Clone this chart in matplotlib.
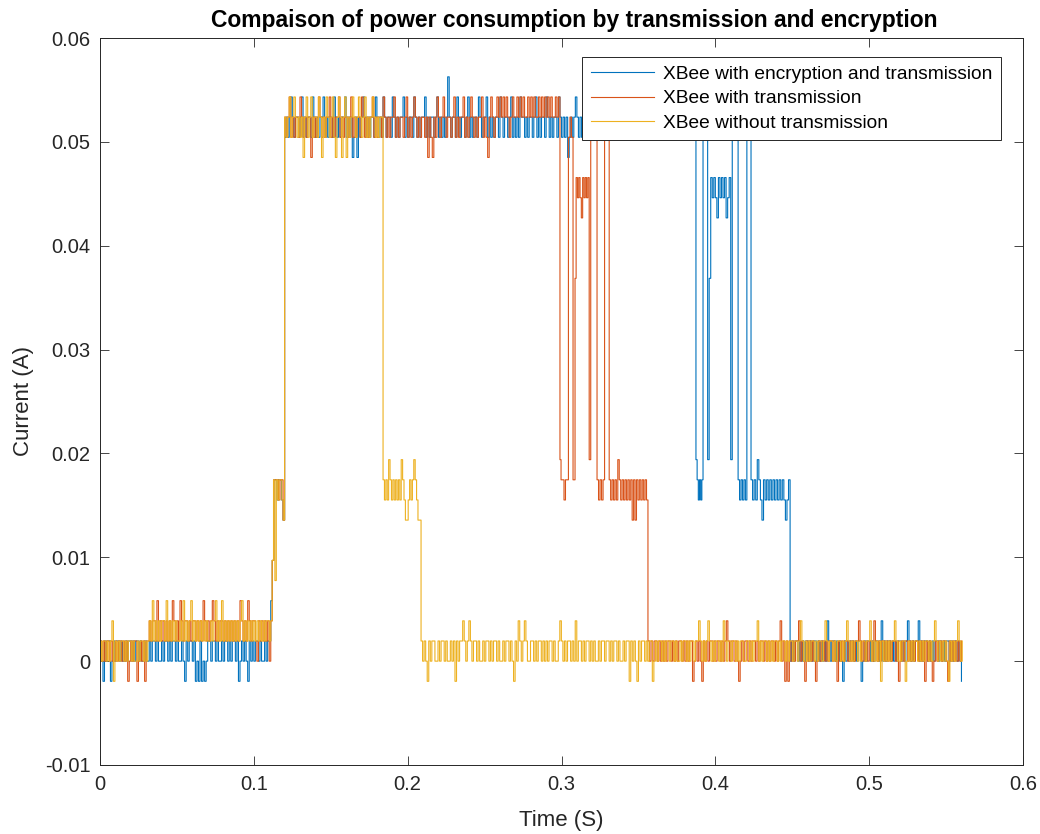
import numpy as np
import matplotlib
matplotlib.use("Agg")
from matplotlib import pyplot as plt

# ADC step of the current logger (A per count)
STEP = 0.00194
# level code: 'm' = -1 count, '0'..'9' = 0..9 counts, 'A'.. = 10.. counts
LEVEL_CHARS = "m0123456789ABCDEFGHIJKLMNOPQRSTU"

# (t_start, t_end, level codes)
blue_segments = [
    (0.000, 0.031, "10m1011m010110100101101011010010"),
    (0.031, 0.111, "0101101001" "0110101101" "0010m10110" "1m0m1m0m01" "1011010010"
                   "110101101m" "01010m1010" "1101001011"),
    (0.111, 0.120, "359989987"),
    (0.120, 0.385, "QRQRSRQRRQ" "RSQRQRRQSR" "QRQRRSQRQR" "RQSRQRQRRS" "QRQRPQRPRQ"
                   "RSRQRQRRQS" "RQRQSRQRRQ" "SRQRQRRSQR" "QRRQSRQRQR" "RSQRQRRQRS"
                   "QRQRQRTRQR" "RQSRQRRQRS" "QRQRRQSRQR" "RSQRQRQRRQ" "SRQRRQRSQR"
                   "QRQSRRQRQR" "RQRSQRQRRQ" "SRQRQRRQSR" "QRQRPQRQRS" "RQRQRRSQRQ"
                   "RQRSRQRQRR" "QSRQRQRRQR" "SRQRQRRQRS" "QRQRRSQRQR" "RQRSQRQRRQ"
                   "RSRQRQRRQR" "QRSRQ"),
    (0.385, 0.3874, "RQ"),
    (0.3874, 0.392, "A98989"),
    (0.392, 0.395, "QRQ"),
    (0.395, 0.396, "A"),
    (0.396, 0.397, "J"),
    (0.397, 0.410, "ONONMONONOMNO"),
    (0.410, 0.411, "A"),
    (0.411, 0.4148, "RQRQ"),
    (0.4148, 0.4205, "989898"),
    (0.4205, 0.4232, "QRQ"),
    (0.4232, 0.4486, "9898A98798989898989898789"),
    (0.4486, 0.5610, "0101101010" "1101011010" "1010210110" "1010m10101" "101011m010"
                     "1101011012" "0101101010" "1101012101" "0112010110" "1010110101"
                     "0110101101" "0m"),
]

orange_segments = [
    (0.000, 0.031, "1010110100" "10110101m0" "1011m0101m" "1"),
    (0.031, 0.111, "1212213121" "2121213212" "1321221212" "2121213212" "1232121221"
                   "2121212121" "3212132122" "1021212120"),
    (0.111, 0.120, "259998997"),
    (0.120, 0.299, "RQRSQRQRRQ" "SRQRQRRPRQ" "RQSRQRQRRS" "QRQRRSQRQR" "RQRSQRQRRQ"
                   "SRQRQRRSQR" "QRRQSRQRQR" "RSQRQRRQRS" "QRQRSRQRQR" "RQRPRQPRQS"
                   "RQRSRQRRQR" "SQRQRRSQRQ" "RSRQRQRRSQ" "RQPRSRQRSR" "SRSRSRQRSR"
                   "RSRSRSRRSR" "SRSRRSRSRS" "RSRSRRSRS"),
    (0.299, 0.2997, "A"),
    (0.2997, 0.3045, "99899"),
    (0.3045, 0.3075, "QRQ"),
    (0.3075, 0.3088, "9"),
    (0.3088, 0.3095, "J"),
    (0.3095, 0.318, "ONONMONONO"),
    (0.318, 0.319, "A"),
    (0.319, 0.3231, "RQRS"),
    (0.3231, 0.328, "98989"),
    (0.328, 0.331, "QRQ"),
    (0.331, 0.3562, "989898A98989898979798989898"),
    (0.3562, 0.5610, "1010110101" "0101101010" "110101011m" "01010m1010" "1101011010"
                     "121011010m" "0101101011" "0101101010" "110101201m" "1m10101120"
                     "10m101010m" "0101101011" "010m101011" "0101011210" "1010110210"
                     "1011010101" "101m010110" "1010110101" "m1010m0101" "10110m1010"
                     "10101"),
]

yellow_segments = [
    (0.000, 0.031, "101101012m1010110101101001011010"),
    (0.031, 0.111, "1213121212" "2131212121" "1213121231" "2121212121" "1212312131"
                   "2121212121" "2312121212" "1212121221"),
    (0.111, 0.120, "2594989987"),
    (0.120, 0.183, "RQRSQRSRQR" "QRPRSQRSQR" "RQSRPRQSRQ" "RSQPRSRPRS" "PRQRSRQRSR"
                   "QRSQRQRSRQ" "RQR"),
    (0.183, 0.184, "R"),
    (0.184, 0.2067, "9898A98989898A98778989A98"),
    (0.2067, 0.2087, "77"),
    (0.2087, 0.5615, "1010m10110" "0101101001" "01m1011210" "1210110100" "1011010110"
                     "1001011010" "m102101210" "0110101101" "0101101001" "2101011010"
                     "2011010110" "1010010110" "1101011010" "01011m1010" "m101101011"
                     "m010110101" "1011010010" "1101011011" "2101012101" "0110102101"
                     "1011010110" "0110101120" "1011010101" "1010110101" "1011012101"
                     "0101101011" "0121011010" "1101012101" "0110101101" "12010101m1"
                     "0101011210" "1011m01010" "1101010110" "1012101010" "10m1010121"
                     "01"),
]

labels = ["XBee with encryption and transmission",
          "XBee with transmission",
          "XBee without transmission"]
colors = ["#0072BD", "#D95319", "#EDB120"]


def decode(segments):
    t_all, i_all = [], []
    for t0, t1, codes in segments:
        t_all.append(np.linspace(t0, t1, len(codes), endpoint=False))
        i_all.append(np.array([LEVEL_CHARS.index(c) - 1 for c in codes]) * STEP)
    return np.concatenate(t_all), np.concatenate(i_all)


plt.rcParams['font.family'] = ['Liberation Sans', 'DejaVu Sans']
fig = plt.figure(figsize=(10.4, 8.34), dpi=100)
ax = fig.add_axes([100 / 1040, 1 - 765 / 834, 923 / 1040, 727 / 834])

for segs, lab, col in zip([blue_segments, orange_segments, yellow_segments], labels, colors):
    t, cur = decode(segs)
    ax.plot(t, cur, color=col, lw=0.8, label=lab, drawstyle='steps-post')

ax.set_xlim(0, 0.6)
ax.set_ylim(-0.01, 0.06)
ax.set_xticks(np.arange(0, 0.61, 0.1))
ax.set_yticks(np.arange(-0.01, 0.061, 0.01))
ax.xaxis.set_major_formatter(matplotlib.ticker.FuncFormatter(lambda v, p: "%g" % round(v, 3)))
ax.yaxis.set_major_formatter(matplotlib.ticker.FuncFormatter(lambda v, p: "%g" % round(v, 3)))
ax.tick_params(direction='in', top=True, right=True, length=6.5, width=0.6,
               labelsize=14.5, colors='#262626', pad=7)
for s in ax.spines.values():
    s.set_color('#262626')
    s.set_linewidth(0.7)

ax.set_xlabel("Time (S)", fontsize=16, color='#262626', labelpad=12)
ax.set_ylabel("Current (A)", fontsize=16, color='#262626', labelpad=8)
ax.set_title("Compaison of power consumption by transmission and encryption",
             fontsize=16.5, fontweight='bold', pad=8, x=0.514)

leg = ax.legend(loc='upper right', bbox_to_anchor=(0.976, 0.974), borderaxespad=0,
                fontsize=13.8, handlelength=3.3, frameon=True, fancybox=False,
                framealpha=1, edgecolor='#262626', borderpad=0.45, labelspacing=0.36,
                handletextpad=0.45)
leg.get_frame().set_linewidth(0.7)

plt.savefig('out.png', dpi=100)
